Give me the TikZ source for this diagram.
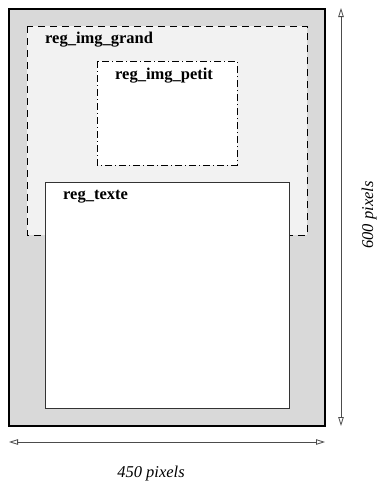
\documentclass[tikz,border=0pt]{standalone}
\usepackage{fontspec}
\setmainfont{Liberation Serif}
\usetikzlibrary{arrows.meta}
\definecolor{outergray}{RGB}{217,217,217}
\definecolor{lightgray}{RGB}{242,242,242}
\begin{document}
\begin{tikzpicture}[x={(1pt,0)},y={(0,-1pt)},
  lbl/.style={anchor=base west,inner sep=0pt,font=\fontsize{16.5}{18}\selectfont\bfseries},
  dimlbl/.style={inner sep=0pt,font=\fontsize{16.5}{18}\selectfont\itshape},
  dimarrow/.style={draw=black!70,line width=0.8pt,{Triangle[open,length=9pt,width=5.5pt,fill=white]}-{Triangle[open,length=9pt,width=5.5pt,fill=white]}}]
\useasboundingbox (0,0) rectangle (378,483);
% page
\draw[fill=outergray,line width=1.5pt] (9,9) rectangle (325,426);
% reg_img_grand
\draw[fill=lightgray,dash pattern=on 7pt off 5pt,line width=0.8pt] (27,26) rectangle (307,235);
\node[lbl] (grand) at (45,43) {reg\_img\_grand};
% reg_img_petit
\draw[fill=white,dash pattern=on 7pt off 3pt on 1pt off 3pt,line width=0.8pt] (97,61) rectangle (237,165);
\node[lbl] (petit) at (115,79) {reg\_img\_petit};
% reg_texte
\draw[fill=white,draw=black!80,line width=0.8pt] (45,182) rectangle (289,408);
\node[lbl] (texte) at (63,199) {reg\_texte};
% dimension arrows
\coordinate (hL) at (9,442);
\coordinate (hR) at (325,442);
\draw[dimarrow] (hL) -- (hR);
\node[dimlbl,anchor=base] (w) at (151,477) {450 pixels};
\coordinate (vT) at (341,8);
\coordinate (vB) at (341,426);
\draw[dimarrow] (vT) -- (vB);
\node[dimlbl,anchor=base,rotate=90] (h) at (373,215) {600 pixels};
\end{tikzpicture}
\end{document}
